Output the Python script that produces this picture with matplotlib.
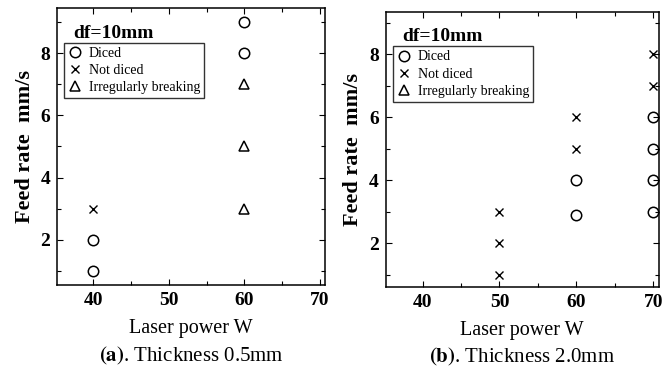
import numpy as np
import matplotlib
matplotlib.use("Agg")
import matplotlib.pyplot as plt
from matplotlib.ticker import MultipleLocator

plt.rcParams['font.family'] = ['Liberation Serif', 'DejaVu Serif']
plt.rcParams['mathtext.fontset'] = 'stix'

# (a) thickness 0.5mm
a_diced_x = [40, 40, 60, 60]
a_diced_y = [1, 2, 8, 9]
a_not_x = [40]
a_not_y = [3]
a_irr_x = [60, 60, 60]
a_irr_y = [3, 5, 7]

# (b) thickness 2.0mm
b_diced_x = [60, 60, 70, 70, 70, 70]
b_diced_y = [4, 2.9, 3, 4, 5, 6]
b_not_x = [50, 50, 50, 60, 60, 70, 70]
b_not_y = [1, 2, 3, 5, 6, 7, 8]
b_irr_x = []
b_irr_y = []

xticks = [40, 50, 60, 70]
yticks = [2, 4, 6, 8]

fig = plt.figure(figsize=(6.72, 3.81), dpi=100)
ax1 = fig.add_axes([0.0848, 0.252, 0.399, 0.727])
ax2 = fig.add_axes([0.574, 0.247, 0.406, 0.722])


def draw(ax, dx, dy, nx, ny, ix, iy, ylim, title, lab):
    ax.plot(dx, dy, 'o', mfc='none', mec='black', ms=7.5, mew=1.1, label='Diced')
    ax.plot(nx, ny, 'x', color='black', ms=5.5, mew=1.0, label='Not diced')
    ax.plot(ix, iy, '^', mfc='none', mec='black', ms=7.5, mew=1.1,
            label='Irregularly breaking')
    ax.set_xlim(35.2, 70.7)
    ax.set_ylim(*ylim)
    ax.set_xticks(xticks)
    ax.set_yticks(yticks)
    ax.xaxis.set_minor_locator(MultipleLocator(5))
    ax.yaxis.set_minor_locator(MultipleLocator(1))
    ax.tick_params(which='both', direction='in', top=True, right=True,
                   labelsize=14, pad=5)
    ax.tick_params(which='major', length=4, width=0.8)
    ax.tick_params(which='minor', length=3, width=0.8)
    for t in ax.get_xticklabels() + ax.get_yticklabels():
        t.set_fontweight('bold')
    for s in ax.spines.values():
        s.set_linewidth(1.1)
    ax.set_ylabel('Feed rate  mm/s', fontsize=16, fontweight='bold', labelpad=4)
    ax.set_xlabel('Laser power W', fontsize=14.5, labelpad=7)
    ax.text(0.06, 0.94, 'df=10mm', transform=ax.transAxes, fontsize=14,
            fontweight='bold', va='top', ha='left')
    leg = ax.legend(loc='upper left', bbox_to_anchor=(0.025, 0.875), fontsize=10,
                    frameon=True, fancybox=False, edgecolor='black',
                    handlelength=1.0, handletextpad=0.5, borderpad=0.3,
                    labelspacing=0.3, borderaxespad=0)
    leg.get_frame().set_linewidth(1.0)
    ax.text(0.5, -0.215, r'$\mathbf{(' + lab + ')}$' + '. ' + title,
            transform=ax.transAxes, fontsize=15, ha='center', va='top')


draw(ax1, a_diced_x, a_diced_y, a_not_x, a_not_y, a_irr_x, a_irr_y,
     (0.55, 9.45), 'Thickness 0.5mm', 'a')
draw(ax2, b_diced_x, b_diced_y, b_not_x, b_not_y, b_irr_x, b_irr_y,
     (0.62, 9.35), 'Thickness 2.0mm', 'b')

fig.savefig('out.png', dpi=100)
